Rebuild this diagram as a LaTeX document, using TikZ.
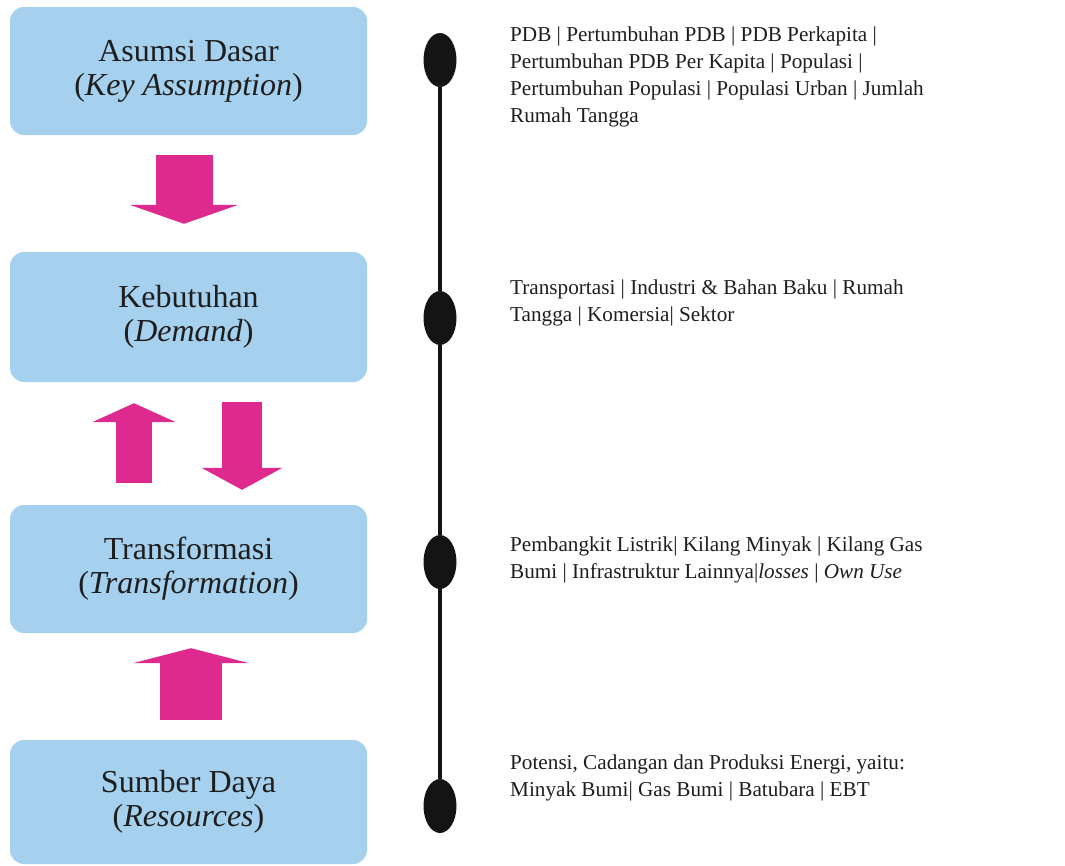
\documentclass[tikz,border=0pt]{standalone}
\usepackage{fontspec}
\setmainfont{Liberation Serif}
\usetikzlibrary{shapes.geometric,arrows.meta}
\definecolor{boxblue}{RGB}{166,209,238}
\definecolor{arrowmag}{RGB}{222,42,142}
\definecolor{txt}{RGB}{30,30,30}
\begin{document}
\begin{tikzpicture}[x=1pt,y=-1pt,
  stagebox/.style={fill=boxblue, rounded corners=14pt, minimum width=357pt, align=center,
    font=\fontsize{32}{34}\selectfont, text=txt, inner sep=0pt},
  dot/.style={ellipse, fill=black!92, minimum width=33pt, minimum height=54pt, inner sep=0pt},
  desc/.style={anchor=west, align=left, font=\fontsize{21.2}{27}\selectfont, text=txt, inner sep=0pt},
  timeline/.style={line width=4.5pt, black!92},
  blockarrow/.style={arrowmag, line width=#1}]
\useasboundingbox (0,0) rectangle (1065,865);

% stage boxes
\node[stagebox, minimum height=128pt] (s1) at (188.5,71)  {Asumsi Dasar\\(\textit{Key Assumption})};
\node[stagebox, minimum height=130pt] (s2) at (188.5,317) {Kebutuhan\\(\textit{Demand})};
\node[stagebox, minimum height=128pt] (s3) at (188.5,569) {Transformasi\\(\textit{Transformation})};
\node[stagebox, minimum height=124pt] (s4) at (188.5,802) {Sumber Daya\\(\textit{Resources})};

% block arrows
\draw[blockarrow=57pt, -{Triangle[length=19pt,width=108pt]}, shorten <=20pt, shorten >=28pt]
  ([xshift=-4.5pt]s1.south) -- ([xshift=-4.5pt]s2.north);
\draw[blockarrow=36pt, -{Triangle[length=19pt,width=83pt]}, shorten <=22pt, shorten >=21pt]
  ([xshift=-54.5pt]s3.north) -- ([xshift=-54.5pt]s2.south);
\draw[blockarrow=40pt, -{Triangle[length=22pt,width=80pt]}, shorten <=20pt, shorten >=15pt]
  ([xshift=53.5pt]s2.south) -- ([xshift=53.5pt]s3.north);
\draw[blockarrow=62pt, -{Triangle[length=15pt,width=116pt]}, shorten <=20pt, shorten >=15pt]
  ([xshift=2.5pt]s4.north) -- ([xshift=2.5pt]s3.south);

% timeline dots
\node[dot] (d1) at (440,60)  {};
\node[dot] (d2) at (440,318) {};
\node[dot] (d3) at (440,562) {};
\node[dot] (d4) at (440,806) {};
\draw[timeline] (d1) -- (d2);
\draw[timeline] (d2) -- (d3);
\draw[timeline] (d3) -- (d4);

% descriptions
\node[desc] (t1) at (510,77) {PDB | Pertumbuhan PDB | PDB Perkapita |\\
  Pertumbuhan PDB Per Kapita | Populasi |\\
  Pertumbuhan Populasi | Populasi Urban | Jumlah\\
  Rumah Tangga};
\node[desc] (t2) at (510,303) {Transportasi | Industri \& Bahan Baku | Rumah\\
  Tangga | Komersia| Sektor};
\node[desc] (t3) at (510,560) {Pembangkit Listrik| Kilang Minyak | Kilang Gas\\
  Bumi | Infrastruktur Lainnya|\textit{losses} | \textit{Own Use}};
\node[desc] (t4) at (510,778) {Potensi, Cadangan dan Produksi Energi, yaitu:\\
  Minyak Bumi| Gas Bumi | Batubara | EBT};
\end{tikzpicture}
\end{document}
